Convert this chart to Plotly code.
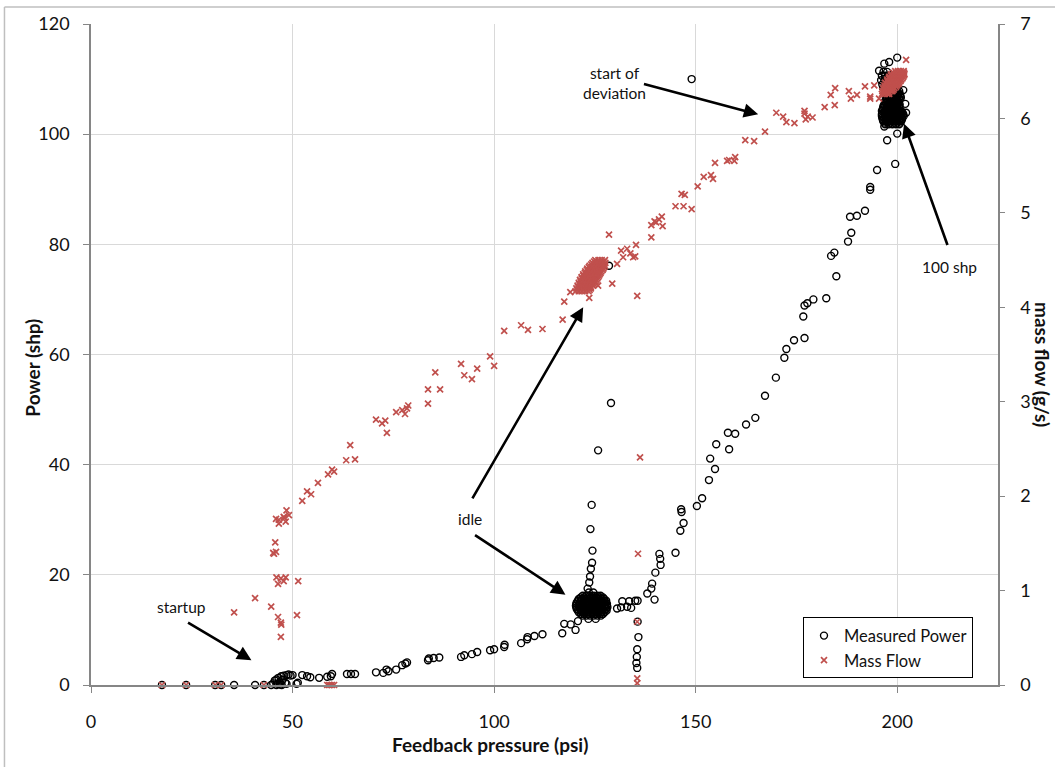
import plotly.graph_objects as go

# ---------------- data ----------------
# Measured power (shp) vs feedback pressure (psi) - individual readings
power_points = [
    # startup, zero power
    (17.6, 0), (23.6, 0), (30.8, 0), (32.3, 0), (35.5, 0), (40.7, 0), (42.9, 0), (44.7, 0),
    (45.2, 0.3), (45.6, 0.8), (46.0, 1.0), (46.3, 0.2), (46.5, 1.3), (46.8, 0.5), (47.0, 0.1),
    (47.2, 1.6), (47.5, 0.9), (47.8, 1.7), (48.2, 0.4), (48.5, 1.8), (49.0, 1.9), (49.5, 1.7),
    (50.0, 1.8), (46.0, 0.0), (47.3, 0.0), (48.5, 0.2),
    # low-power ramp toward idle
    (51.0, 0.2), (51.3, 0.4), (52.4, 1.8), (53.6, 1.6), (54.4, 1.4), (56.6, 1.3), (58.6, 1.5),
    (59.5, 1.6), (59.8, 2.0), (63.5, 2.0), (64.5, 2.0), (65.5, 2.0), (70.7, 2.3), (72.5, 2.2),
    (73.3, 2.8), (73.8, 2.5), (75.7, 2.8), (77.2, 3.6), (78.0, 3.9), (78.4, 4.1), (83.6, 4.5),
    (83.8, 4.8), (85.0, 4.9), (86.4, 5.0), (91.8, 5.1), (92.6, 5.4), (94.5, 5.6), (95.8, 6.0),
    (99.0, 6.3), (100.0, 6.5), (102.5, 6.9), (102.6, 7.3), (106.7, 7.6), (108.2, 8.3),
    (108.3, 8.7), (110.0, 8.9), (112.0, 9.2), (116.9, 9.4), (117.4, 11.1), (119.0, 11.0),
    (120.2, 10.0), (120.8, 11.6),
    # spread above idle
    (123.2, 17.5), (123.6, 18.6), (123.8, 19.7), (124.0, 21.1), (124.3, 22.2), (124.4, 24.4),
    (123.9, 28.3), (124.2, 32.7), (125.8, 42.6), (129.0, 51.2), (128.5, 76.1),
    # right of idle and the drop column
    (130.5, 13.9), (131.5, 14.1), (131.8, 15.2), (133.0, 14.2), (133.5, 15.2), (134.0, 14.0),
    (135.0, 15.3), (135.6, 15.3), (135.6, 11.5), (135.8, 8.7), (135.5, 6.5), (135.4, 5.1),
    (135.3, 4.0), (135.5, 3.1),
    # climb to full power
    (138.0, 16.6), (139.0, 17.5), (139.2, 18.4), (139.8, 15.5), (140.0, 20.4), (141.3, 21.8),
    (141.2, 22.9), (141.0, 23.8), (145.0, 24.0), (146.2, 28.0), (147.0, 29.4), (146.5, 31.4),
    (146.4, 31.9), (150.3, 32.5), (151.6, 33.9), (153.3, 37.2), (154.8, 39.2), (153.6, 41.1),
    (155.1, 43.7), (158.3, 42.8), (158.0, 45.8), (159.8, 45.6), (162.5, 47.3), (164.8, 48.5),
    (167.2, 52.5), (169.9, 55.8), (172.0, 59.4), (172.5, 61.0), (174.4, 62.6), (177.0, 63.0),
    (176.7, 66.9), (177.0, 68.9), (177.7, 69.3), (179.2, 70.0), (182.4, 70.2), (184.9, 74.2),
    (183.6, 77.9), (184.4, 78.5), (187.8, 80.5), (188.6, 82.1), (188.3, 85.0), (190.0, 85.2),
    (192.0, 86.1), (193.3, 89.9), (193.3, 90.4), (195.0, 93.5), (199.5, 94.6), (197.5, 98.9),
    (200.0, 100.1), (149.0, 110.0),
    (200.0, 113.9), (196.8, 101.4), (202.2, 103.9), (195.5, 111.5), (196.8, 112.8),
    (198.0, 113.1), (201.5, 108.0), (202.0, 105.5),
]

# dense idle readings: power level -> pressures
power_idle_rows = {
    12.0: [123.4, 125.2],
    12.6: [122.0, 122.9, 123.8, 124.7, 125.6, 126.5],
    12.9: [121.5, 122.3, 123.1, 123.9, 124.7, 125.5, 126.3, 127.0],
    13.2: [121.0, 121.8, 122.6, 123.4, 124.2, 125.0, 125.8, 126.6, 127.4],
    13.5: [120.8, 121.6, 122.4, 123.2, 124.0, 124.8, 125.6, 126.4, 127.2, 127.9],
    13.8: [120.5, 121.3, 122.1, 122.9, 123.7, 124.5, 125.3, 126.1, 126.9, 127.8],
    14.1: [120.4, 121.2, 122.0, 122.8, 123.6, 124.4, 125.2, 126.0, 126.8, 127.6, 128.1],
    14.4: [120.3, 121.1, 121.9, 122.7, 123.5, 124.3, 125.1, 125.9, 126.7, 127.5, 128.0],
    14.7: [120.4, 121.2, 122.0, 122.8, 123.6, 124.4, 125.2, 126.0, 126.8, 127.6, 128.0],
    15.0: [120.5, 121.3, 122.1, 122.9, 123.7, 124.5, 125.3, 126.1, 126.9, 127.7],
    15.3: [120.8, 121.6, 122.4, 123.2, 124.0, 124.8, 125.6, 126.4, 127.2, 127.8],
    15.6: [121.0, 121.8, 122.6, 123.4, 124.2, 125.0, 125.8, 126.6, 127.3],
    15.9: [121.5, 122.3, 123.1, 123.9, 124.7, 125.5, 126.3, 127.0],
    16.2: [122.0, 122.9, 123.8, 124.7, 125.6, 126.4],
    16.8: [123.5, 124.6],
}

# dense full-power readings: power level -> pressures
power_full_rows = {
    101.8: [197.0, 197.9, 198.8, 199.7, 200.5],
    102.1: [196.8, 197.6, 198.4, 199.2, 200.0, 200.8],
    102.4: [196.5, 197.3, 198.1, 198.9, 199.7, 200.5, 201.0],
    102.7: [196.4, 197.2, 198.0, 198.8, 199.6, 200.4, 201.2],
    103.0: [196.3, 197.1, 197.9, 198.7, 199.5, 200.3, 201.1],
    103.3: [196.2, 197.0, 197.8, 198.6, 199.4, 200.2, 201.0, 201.6],
    103.6: [196.2, 197.0, 197.8, 198.6, 199.4, 200.2, 201.0, 201.5],
    103.9: [196.6, 197.4, 198.2, 199.0, 199.8, 200.6, 201.3],
    104.2: [196.2, 197.0, 197.8, 198.6, 199.4, 200.2, 201.0],
    104.5: [196.4, 197.2, 198.0, 198.8, 199.6, 200.4],
    104.8: [196.5, 197.3, 198.1, 198.9, 199.7, 200.5],
    105.1: [196.6, 197.4, 198.2, 199.0, 199.8, 200.5],
    105.4: [196.8, 197.6, 198.4, 199.2, 200.0, 200.6],
    105.7: [197.2, 198.0, 198.8, 199.6, 200.3],
    106.0: [197.0, 197.8, 198.6, 199.4, 200.2],
    106.3: [197.4, 198.2, 199.0, 199.8, 200.6],
    106.6: [197.2, 198.0, 198.8, 199.6, 200.4, 200.9],
    106.9: [197.6, 198.4, 199.2, 200.0, 200.8],
    107.2: [197.5, 198.3, 199.1, 199.9, 200.7],
    107.5: [197.9, 198.7, 199.5, 200.3],
    107.8: [197.5, 198.3, 199.1, 199.9, 200.5],
    108.4: [196.5, 197.3, 198.1, 198.9],
    109.0: [196.3, 197.1, 197.9],
    109.8: [196.0, 196.8, 197.6],
    110.6: [196.2, 197.0, 197.8],
    111.3: [196.6, 197.5],
}

# Mass flow (g/s) vs feedback pressure (psi)
flow_points = [
    (17.6, 0), (23.6, 0), (30.8, 0), (32.3, 0), (42.9, 0),
    (58.6, 0), (59.0, 0), (59.4, 0), (59.8, 0), (60.3, 0),
    (35.5, 0.77), (40.7, 0.92), (44.7, 0.83), (46.4, 0.72), (47.1, 0.66), (47.2, 0.64),
    (47.1, 0.51), (46.0, 1.14), (46.4, 1.07), (47.1, 1.13), (47.8, 1.10), (48.3, 1.14),
    (51.4, 1.10), (51.1, 0.74), (45.7, 1.51), (45.2, 1.40), (45.9, 1.41), (45.4, 1.39),
    (45.9, 1.76), (46.6, 1.75), (46.6, 1.71), (47.8, 1.78), (48.3, 1.73), (48.5, 1.85),
    (49.1, 1.80), (48.0, 1.77), (52.4, 1.95), (53.6, 2.05), (54.6, 2.02), (56.3, 2.14),
    (58.8, 2.23), (59.8, 2.28), (60.3, 2.26), (63.3, 2.38), (65.5, 2.39), (64.3, 2.54),
    (70.7, 2.81), (72.2, 2.77), (73.0, 2.80), (73.4, 2.67), (75.7, 2.89), (77.2, 2.91),
    (77.9, 2.87), (78.4, 2.93), (78.7, 2.96), (83.6, 3.13), (83.6, 2.98), (85.4, 3.31),
    (86.6, 3.13), (91.8, 3.40), (92.6, 3.28), (94.5, 3.24), (95.8, 3.35), (99.0, 3.48),
    (100.0, 3.38), (102.5, 3.75), (106.7, 3.81), (108.4, 3.76), (112.0, 3.77), (117.0, 3.87),
    (117.4, 4.06), (118.9, 4.16), (123.6, 4.10), (125.8, 4.23), (129.3, 4.25), (130.5, 4.46),
    (132.0, 4.53), (128.5, 4.77), (131.5, 4.60), (133.0, 4.62), (133.8, 4.57), (134.5, 4.53),
    (135.0, 4.54), (135.2, 4.66), (135.5, 4.12), (139.0, 4.74), (139.0, 4.87), (140.2, 4.90),
    (140.9, 4.93), (141.6, 4.96), (141.8, 4.86), (139.8, 4.91), (145.0, 5.07), (146.5, 5.20),
    (147.0, 5.07), (147.3, 5.19), (149.0, 5.04), (150.5, 5.28), (152.0, 5.38), (153.8, 5.40),
    (154.3, 5.36), (154.8, 5.53), (157.8, 5.55), (158.3, 5.56), (159.8, 5.59), (159.6, 5.55),
    (162.3, 5.77), (164.5, 5.76), (167.2, 5.86), (170.0, 6.06), (171.7, 6.02), (172.5, 5.96),
    (174.5, 5.95), (177.0, 6.08), (177.0, 6.05), (177.3, 5.99), (179.0, 6.01), (177.8, 6.02),
    (182.0, 6.12), (184.5, 6.14), (183.5, 6.25), (184.6, 6.32), (188.0, 6.29), (188.5, 6.21),
    (190.0, 6.25), (192.0, 6.34), (193.3, 6.23), (193.3, 6.21), (194.3, 6.35), (195.5, 6.21),
    (202.2, 6.62),
    (136.2, 2.41), (135.7, 1.39), (135.5, 0.67), (135.5, 0.07), (135.5, 0.02),
]

# dense idle mass-flow readings: flow level -> pressures
flow_idle_rows = {
    4.170: [120.2, 121.0, 121.8, 122.6, 123.4],
    4.185: [120.6, 121.4, 122.2, 123.0, 123.7],
    4.200: [120.4, 121.2, 122.0, 122.8, 123.6, 124.0],
    4.215: [120.8, 121.6, 122.4, 123.2, 124.0],
    4.230: [120.7, 121.5, 122.3, 123.1, 123.9, 124.5],
    4.245: [121.1, 121.9, 122.7, 123.5, 124.3, 124.8],
    4.260: [121.0, 121.8, 122.6, 123.4, 124.2, 125.0],
    4.275: [121.4, 122.2, 123.0, 123.8, 124.6, 125.2],
    4.290: [121.3, 122.1, 122.9, 123.7, 124.5, 125.4],
    4.305: [121.7, 122.5, 123.3, 124.1, 124.9, 125.6],
    4.320: [121.7, 122.5, 123.3, 124.1, 124.9, 125.8],
    4.335: [122.1, 122.9, 123.7, 124.5, 125.3, 126.0],
    4.350: [122.1, 122.9, 123.7, 124.5, 125.3, 126.2],
    4.365: [122.5, 123.3, 124.1, 124.9, 125.7, 126.4],
    4.380: [122.6, 123.4, 124.2, 125.0, 125.8, 126.6],
    4.395: [123.0, 123.8, 124.6, 125.4, 126.2, 126.9],
    4.410: [123.1, 123.9, 124.7, 125.5, 126.3, 127.1],
    4.425: [123.5, 124.3, 125.1, 125.9, 126.7, 127.3],
    4.440: [123.7, 124.5, 125.3, 126.1, 126.9, 127.5],
    4.455: [124.1, 124.9, 125.7, 126.5, 127.3],
    4.470: [124.4, 125.2, 126.0, 126.8, 127.6],
    4.485: [124.8, 125.6, 126.4, 127.2],
    4.500: [125.1, 125.9, 126.7, 127.5],
}

# dense full-power mass-flow readings: flow level -> pressures
flow_full_rows = {
    6.260: [196.2, 196.9, 197.6, 198.0],
    6.275: [196.6, 197.3, 198.0],
    6.290: [196.3, 197.0, 197.7, 198.4, 198.8],
    6.305: [196.7, 197.4, 198.1, 198.8, 199.1],
    6.320: [196.5, 197.2, 197.9, 198.6, 199.3],
    6.335: [196.9, 197.6, 198.3, 199.0, 199.7],
    6.350: [196.8, 197.5, 198.2, 198.9, 199.6, 200.0],
    6.365: [197.2, 197.9, 198.6, 199.3, 200.0, 200.3],
    6.380: [197.0, 197.7, 198.4, 199.1, 199.8, 200.5],
    6.395: [197.5, 198.2, 198.9, 199.6, 200.3, 200.8],
    6.410: [197.5, 198.2, 198.9, 199.6, 200.3, 201.0],
    6.425: [197.9, 198.6, 199.3, 200.0, 200.7, 201.3],
    6.440: [198.0, 198.7, 199.4, 200.1, 200.8, 201.5],
    6.455: [198.4, 199.1, 199.8, 200.5, 201.2, 201.7],
    6.470: [198.5, 199.2, 199.9, 200.6, 201.3, 201.8],
    6.485: [199.0, 199.7, 200.4, 201.1, 201.7],
    6.500: [199.5, 200.2, 200.9, 201.6],
}

x_ticks = [0, 50, 100, 150, 200]
power_ticks = [0, 20, 40, 60, 80, 100, 120]
flow_ticks = [0, 1, 2, 3, 4, 5, 6, 7]


def expand(points, *row_tables):
    xs = [p[0] for p in points]
    ys = [p[1] for p in points]
    for table in row_tables:
        for level, pressures in table.items():
            xs.extend(pressures)
            ys.extend([level] * len(pressures))
    return xs, ys


px_, py_ = expand(power_points, power_idle_rows, power_full_rows)
fx_, fy_ = expand(flow_points, flow_idle_rows, flow_full_rows)

FONT = "Lato, 'DejaVu Sans', sans-serif"
RED = "#c0504d"
AXIS = "#868686"
GRID = "#d9d9d9"
TXT = "#111111"

fig = go.Figure()
fig.add_trace(go.Scatter(
    x=px_, y=py_, mode="markers", name="Measured Power",
    marker=dict(symbol="circle-open", size=7, color="black", line=dict(width=1.4, color="black")),
    cliponaxis=False, yaxis="y",
))
fig.add_trace(go.Scatter(
    x=fx_, y=fy_, mode="markers", name="Mass Flow",
    marker=dict(symbol="x-thin-open", size=6, color=RED, line=dict(width=1.7, color=RED)),
    cliponaxis=False, yaxis="y2",
))

tickfont = dict(family=FONT, size=18, color=TXT)
fig.update_layout(
    width=1055, height=767,
    margin=dict(l=91, r=57, t=20, b=82),
    paper_bgcolor="white", plot_bgcolor="white",
    font=dict(family=FONT, color=TXT),
    showlegend=True,
    legend=dict(
        x=0.785, y=0.01, xanchor="left", yanchor="bottom",
        bordercolor="black", borderwidth=1, bgcolor="white",
        font=dict(family=FONT, size=16.5, color=TXT),
        tracegroupgap=0, itemwidth=30,
    ),
    xaxis=dict(
        range=[0, 225], tickvals=x_ticks, showgrid=True, gridcolor=GRID, gridwidth=1,
        showline=True, linecolor=AXIS, linewidth=1.5, ticks="outside", ticklen=6,
        tickcolor=AXIS, tickfont=tickfont, zeroline=False, ticklabelstandoff=14,
    ),
    yaxis=dict(
        range=[0, 120], tickvals=power_ticks, showgrid=True, gridcolor=GRID, gridwidth=1,
        showline=True, linecolor=AXIS, linewidth=1.5, ticks="outside", ticklen=6,
        tickcolor=AXIS, tickfont=tickfont, zeroline=False, ticklabelstandoff=10,
    ),
    yaxis2=dict(
        range=[0, 7], tickvals=flow_ticks, overlaying="y", side="right", showgrid=False,
        showline=True, linecolor=AXIS, linewidth=1.5, ticks="outside", ticklen=5,
        tickcolor=AXIS, tickfont=tickfont, zeroline=False, ticklabelstandoff=12,
    ),
)

# axis titles
title_font = dict(family=FONT, size=19, color=TXT, weight="bold")
fig.add_annotation(text="<b>Feedback pressure (psi)</b>", xref="paper", yref="paper",
                   x=0.44, y=-0.09, xanchor="center", yanchor="middle",
                   showarrow=False, font=title_font)
fig.add_annotation(text="<b>Power (shp)</b>", xref="paper", yref="paper",
                   x=-0.064, y=0.48, xanchor="center", yanchor="middle", textangle=-90,
                   showarrow=False, font=title_font)
fig.add_annotation(text="<b>mass flow (g/s)</b>", xref="paper", yref="paper",
                   x=1.049, y=0.485, xanchor="center", yanchor="middle", textangle=90,
                   showarrow=False, font=title_font)

# callout labels
label_font = dict(family=FONT, size=15.5, color=TXT)
for text, lx, ly in [
    ("start of<br>deviation", 129.8, 109.3),
    ("100 shp", 212.9, 75.8),
    ("idle", 93.9, 30.1),
    ("startup", 22.4, 14.1),
]:
    fig.add_annotation(text=text, x=lx, y=ly, xref="x", yref="y", showarrow=False,
                       font=label_font, xanchor="center", yanchor="middle", align="center")

# callout arrows: head (x, y) <- tail (ax, ay)
for hx, hy, tx, ty in [
    (165.5, 103.6, 136.8, 109.2),
    (201.7, 101.9, 212.6, 79.6),
    (122.1, 68.6, 94.4, 33.6),
    (117.7, 16.4, 94.9, 27.4),
    (39.8, 4.5, 23.7, 11.5),
]:
    fig.add_annotation(text="", x=hx, y=hy, ax=tx, ay=ty, xref="x", yref="y",
                       axref="x", ayref="y", showarrow=True, arrowhead=2,
                       arrowsize=1.1, arrowwidth=2.6, arrowcolor="black", standoff=0)

# outer chart frame
fig.add_shape(type="line", xref="paper", yref="paper", x0=-0.0954, x1=-0.0954,
              y0=-0.2, y1=1.0256, line=dict(color="#bfbfbf", width=1.5))
fig.add_shape(type="line", xref="paper", yref="paper", x0=-0.0954, x1=1.2,
              y0=1.0256, y1=1.0256, line=dict(color="#bfbfbf", width=1.5))

fig.write_html("out.html")
